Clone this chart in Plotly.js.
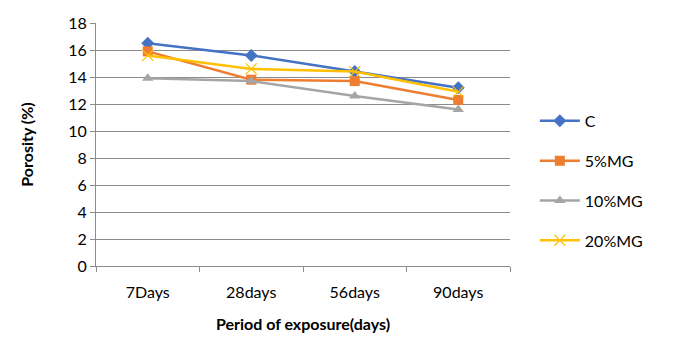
<!DOCTYPE html>
<html>
<head>
<meta charset="utf-8">
<script src="https://cdn.plot.ly/plotly-3.0.1.min.js"></script>
<style>html,body{margin:0;padding:0;background:#fff;}#chart{width:674px;height:362px;}</style>
</head>
<body>
<div id="chart"></div>
<script>
const categories = ["7Days", "28days", "56days", "90days"];
const seriesNames = ["C", "5%MG", "10%MG", "20%MG"];
const valuesC = [16.5, 15.6, 14.4, 13.2];
const values5MG = [15.9, 13.8, 13.7, 12.3];
const values10MG = [13.9, 13.7, 12.6, 11.6];
const values20MG = [15.6, 14.6, 14.4, 12.9];
const colors = ["#4472C4", "#ED7D31", "#A5A5A5", "#FFC000"];
const symbols = ["diamond", "square", "triangle-up", "x-thin"];
const allValues = [valuesC, values5MG, values10MG, values20MG];

const traces = allValues.map((v, i) => ({
  x: categories,
  y: v,
  name: seriesNames[i],
  legendgroup: "g" + i,
  type: "scatter",
  mode: "lines+markers",
  line: {color: colors[i], width: 2.5},
  marker: {
    symbol: symbols[i],
    size: i === 3 ? 11 : 10,
    color: colors[i],
    line: {color: colors[i], width: i === 3 ? 1.2 : 0}
  }
}));

const font = "Lato, 'Open Sans', sans-serif";
const layout = {
  width: 674, height: 362,
  margin: {l: 96, r: 164, t: 23, b: 96},
  paper_bgcolor: "#fff", plot_bgcolor: "#fff",
  font: {family: font, size: 16, color: "#000"},
  showlegend: true,
  legend: {
    x: 1.06, y: 0.35, xanchor: "left", yanchor: "middle",
    font: {family: font, size: 16, color: "#000"},
    tracegroupgap: 16, itemwidth: 40
  },
  xaxis: {
    type: "category",
    range: [-0.5, 3.5],
    showgrid: false,
    showline: true, linecolor: "#8c8c8c", linewidth: 1,
    ticks: "outside", tickson: "boundaries", ticklen: 5, tickcolor: "#8c8c8c",
    ticklabelstandoff: 12,
    tickfont: {family: font, size: 16, color: "#000"},
    title: {text: "<b>Period of exposure(days)</b>", font: {family: font, size: 16, color: "#000"}, standoff: 18},
    zeroline: false
  },
  yaxis: {
    range: [0, 18], dtick: 2,
    showgrid: true, gridcolor: "#8c8c8c", gridwidth: 1,
    showline: true, linecolor: "#8c8c8c", linewidth: 1,
    ticks: "outside", ticklen: 5, tickcolor: "#8c8c8c",
    tickfont: {family: font, size: 16, color: "#000"},
    title: {text: "<b>Porosity (%)</b>", font: {family: font, size: 16, color: "#000"}, standoff: 30},
    zeroline: false
  }
};

Plotly.newPlot("chart", traces, layout, {displayModeBar: false, staticPlot: true});
</script>
</body>
</html>
